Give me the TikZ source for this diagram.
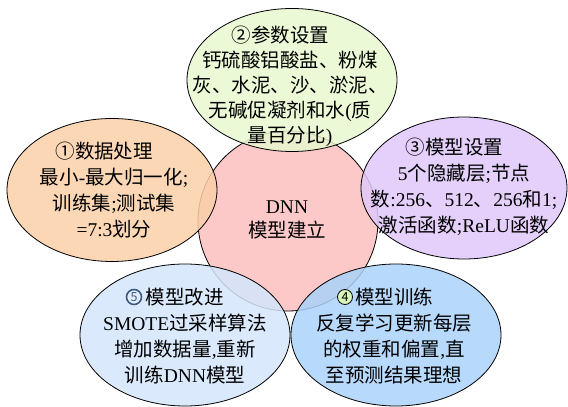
\documentclass[tikz,border=0pt]{standalone}
\usepackage{fontspec}
\setmainfont{Liberation Serif}
\newfontfamily\cjk{Noto Sans CJK SC}
\newcommand{\C}[1]{{\cjk #1}}
\usetikzlibrary{shapes.geometric}
\definecolor{cgreen}{RGB}{232,248,208}
\definecolor{corange}{RGB}{250,208,168}
\definecolor{cpink}{RGB}{252,200,200}
\definecolor{cpurple}{RGB}{224,200,250}
\definecolor{clblue}{RGB}{212,230,252}
\definecolor{cblue}{RGB}{170,210,250}
\definecolor{cnum4}{RGB}{215,245,185}
\definecolor{cnum5}{RGB}{60,90,130}
\tikzset{
  bubble/.style={ellipse, draw=black, line width=0.8pt, fill=#1, fill opacity=0.85,
    text opacity=1, inner sep=0pt, minimum width=210pt, minimum height=143pt},
  txt/.style={align=center, inner sep=0pt, font=\fontsize{19.5}{26}\selectfont},
  numcirc/.style={circle, inner sep=0pt, minimum size=15pt, font=\cjk\fontsize{12.5}{12.5}\selectfont},
}
\begin{document}
\begin{tikzpicture}[x=1pt,y=1pt]
\useasboundingbox (0,0) rectangle (568,407);
% centre circle
\node[circle, draw=black, line width=0.8pt, fill=cpink, minimum size=180pt, inner sep=0pt] (c) at (288,186) {};
\node[txt, font=\fontsize{19.5}{24}\selectfont] (ct) at (287,187) {DNN\\ \C{模型建立}};
% surrounding ellipses
\node[bubble=cgreen] (e2) at (292,327) {};
\node[bubble=corange] (e1) at (112,217) {};
\node[bubble=cpurple, minimum width=206pt, minimum height=142pt] (e3) at (464,219) {};
\node[bubble=clblue, minimum height=142pt] (e5) at (185,72) {};
\node[bubble=cblue, minimum height=142pt] (e4) at (396,72) {};
% texts
\node[txt, font=\fontsize{19.5}{25}\selectfont] (t2) at (290,321) {\C{②参数设置}\hspace*{1em}\\ \C{钙硫酸铝酸盐、粉煤}\\ \C{灰、水泥、沙、淤泥、}\\ \C{无碱促凝剂和水}(\C{质}\\ \C{量百分比})};
\node[txt] (t1) at (114,217) {\C{①数据处理}\hspace*{1em}\\ \C{最小}-\C{最大归一化};\\ \C{训练集};\C{测试集}\\ =7:3\C{划分}};
\node[txt] (t3) at (464,220) {\C{③模型设置}\hspace*{1em}\\ 5\C{个隐藏层};\C{节点}\\ \C{数}:256\C{、}512\C{、}256\C{和}1;\\ \C{激活函数};ReLU\C{函数}};
\node[txt] (t5) at (185,71) {\hspace*{1em}\C{模型改进}\hspace*{1em}\\ SMOTE\C{过采样算法}\\ \C{增加数据量},\C{重新}\\ \C{训练}DNN\C{模型}};
\node[txt] (t4) at (394,71) {\hspace*{1em}\C{模型训练}\hspace*{1em}\\ \C{反复学习更新每层}\\ \C{的权重和偏置},\C{直}\\ \C{至预测结果理想}};
% circled numbers 4 and 5
\node[numcirc, draw=black, line width=0.8pt, fill=cnum4] (n4) at (345,110) {4};
\node[numcirc, draw=cnum5, line width=1.6pt, fill=clblue!70!white, text=cnum5] (n5) at (134,110) {5};
\end{tikzpicture}
\end{document}
